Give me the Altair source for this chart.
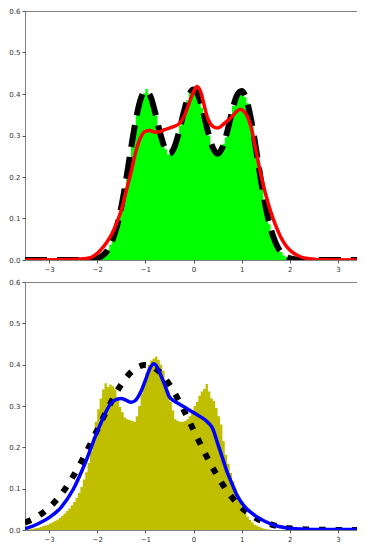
import altair as alt
import pandas as pd

# ---------------- data ----------------
top_hist_first_edge = -2.2
top_hist_bin_width = 0.05
top_hist_values = [
    0.001, 0.001, 0.002, 0.003, 0.006, 0.008, 0.013, 0.019, 0.025, 0.037,
    0.049, 0.068, 0.090, 0.112, 0.146, 0.174, 0.214, 0.246, 0.289, 0.318,
    0.355, 0.372, 0.398, 0.402, 0.412, 0.399, 0.391, 0.366, 0.348, 0.318,
    0.301, 0.275, 0.267, 0.254, 0.260, 0.262, 0.281, 0.296, 0.324, 0.342,
    0.372, 0.385, 0.406, 0.408,
    0.412, 0.400, 0.391, 0.366, 0.347, 0.318, 0.300, 0.276, 0.266, 0.255,
    0.259, 0.262, 0.280, 0.296, 0.323, 0.343, 0.371, 0.386, 0.405, 0.408,
    0.407, 0.392, 0.378, 0.349, 0.322, 0.283, 0.250, 0.209, 0.178, 0.141,
    0.116, 0.086, 0.069, 0.048, 0.037, 0.025, 0.019, 0.011, 0.008, 0.005,
    0.003, 0.002, 0.001, 0.001,
]

top_true_x = [
    -3.5, -3.4, -3.3, -3.2, -3.1, -3.0, -2.9, -2.8, -2.7, -2.6, -2.5, -2.4, -2.3,
    -2.2, -2.1, -2.0, -1.9, -1.8, -1.7, -1.6, -1.5, -1.4, -1.3, -1.2, -1.1, -1.0,
    -0.9, -0.8, -0.7, -0.6, -0.5, -0.4, -0.3, -0.2, -0.1, 0.0,
    0.1, 0.2, 0.3, 0.4, 0.5, 0.6, 0.7, 0.8, 0.9, 1.0,
    1.1, 1.2, 1.3, 1.4, 1.5, 1.6, 1.7, 1.8, 1.9, 2.0, 2.1, 2.2,
    2.3, 2.4, 2.5, 2.6, 2.7, 2.8, 2.9, 3.0, 3.1, 3.2, 3.3, 3.4, 3.5,
]
top_true_y = [
    0, 0, 0, 0, 0, 0, 0, 0, 0, 0, 0, 0, 0,
    0.001, 0.002, 0.004, 0.010, 0.021, 0.043, 0.077, 0.128, 0.193, 0.267, 0.336, 0.387, 0.407,
    0.396, 0.357, 0.309, 0.271, 0.256, 0.271, 0.309, 0.357, 0.396, 0.411,
    0.396, 0.357, 0.309, 0.271, 0.256, 0.271, 0.309, 0.357, 0.396, 0.407,
    0.387, 0.336, 0.267, 0.193, 0.128, 0.077, 0.043, 0.021, 0.010, 0.004, 0.002, 0.001,
    0, 0, 0, 0, 0, 0, 0, 0, 0, 0, 0, 0, 0,
]

top_kde_x = [
    -3.5, -2.6, -2.4, -2.2, -2.1, -2.0, -1.9, -1.8, -1.7, -1.6, -1.5, -1.4, -1.3,
    -1.2, -1.1, -1.0, -0.9, -0.8, -0.7, -0.6, -0.5, -0.4, -0.3, -0.2, -0.1, 0.0,
    0.07, 0.15, 0.2, 0.3, 0.4, 0.5, 0.6, 0.7, 0.8, 0.9, 0.97, 1.05, 1.1, 1.2,
    1.3, 1.4, 1.5, 1.6, 1.7, 1.8, 1.9, 2.0, 2.1, 2.2, 2.3, 2.5, 2.7, 3.5,
]
top_kde_y = [
    0.0, 0.001, 0.002, 0.004, 0.008, 0.016, 0.028, 0.043, 0.062, 0.088, 0.120, 0.165, 0.210,
    0.260, 0.295, 0.310, 0.312, 0.308, 0.309, 0.314, 0.318, 0.322, 0.328, 0.345, 0.375, 0.405,
    0.418, 0.405, 0.383, 0.340, 0.322, 0.318, 0.325, 0.335, 0.345, 0.358, 0.363, 0.358, 0.350, 0.318,
    0.262, 0.205, 0.158, 0.118, 0.085, 0.058, 0.038, 0.024, 0.015, 0.009, 0.005, 0.002, 0.0005, 0.0,
]

bot_hist_first_edge = -3.5
bot_hist_bin_width = 0.05
bot_hist_values = [
    0.001, 0.001, 0.002, 0.003, 0.004, 0.005, 0.007, 0.009, 0.011, 0.013,
    0.016, 0.019, 0.022, 0.025, 0.029, 0.034, 0.040, 0.046, 0.052, 0.060,
    0.068, 0.078, 0.090, 0.104, 0.122, 0.140, 0.162, 0.190, 0.225, 0.262,
    0.292, 0.318, 0.340, 0.355, 0.346, 0.352, 0.348, 0.340, 0.320, 0.298,
    0.285, 0.272, 0.268, 0.266, 0.264, 0.262, 0.275, 0.300, 0.330, 0.352,
    0.380, 0.400, 0.410, 0.415, 0.420, 0.412, 0.400, 0.385, 0.362, 0.335,
    0.310, 0.290, 0.268, 0.264, 0.262, 0.262, 0.264, 0.268, 0.275, 0.285,
    0.300, 0.310, 0.325, 0.335, 0.342, 0.353, 0.335, 0.318, 0.312, 0.295,
    0.275, 0.255, 0.215, 0.182, 0.160, 0.138, 0.118, 0.100, 0.084, 0.072,
    0.055, 0.042, 0.032, 0.024, 0.018, 0.013, 0.010, 0.007, 0.005, 0.003,
    0.002, 0.001,
]

bot_norm_x = [
    -3.5, -3.25, -3.0, -2.75, -2.5, -2.25, -2.0, -1.75, -1.5, -1.25, -1.0,
    -0.75, -0.5, -0.25, 0.0, 0.25, 0.5, 0.75, 1.0, 1.25, 1.5, 1.75, 2.0,
    2.25, 2.5, 2.75, 3.0, 3.25, 3.5,
]
bot_norm_y = [
    0.018, 0.032, 0.054, 0.086, 0.130, 0.183, 0.242, 0.301, 0.352, 0.387, 0.399,
    0.387, 0.352, 0.301, 0.242, 0.183, 0.130, 0.086, 0.054, 0.032, 0.018, 0.009, 0.004,
    0.002, 0.001, 0.0004, 0.0001, 0.0, 0.0,
]

bot_kde_x = [
    -3.5, -3.25, -3.0, -2.75, -2.5, -2.25, -2.0, -1.9, -1.8, -1.7, -1.6, -1.5,
    -1.4, -1.3, -1.2, -1.1, -1.0, -0.9, -0.83, -0.75, -0.7, -0.6, -0.5, -0.4,
    -0.3, -0.2, -0.1, 0.0, 0.1, 0.2, 0.3, 0.4, 0.5, 0.6, 0.7, 0.8, 0.9, 1.0,
    1.1, 1.2, 1.3, 1.5, 1.75, 2.0, 2.3, 2.6, 3.5,
]
bot_kde_y = [
    0.003, 0.014, 0.030, 0.055, 0.098, 0.162, 0.238, 0.265, 0.290, 0.308, 0.316, 0.318,
    0.314, 0.309, 0.314, 0.333, 0.362, 0.392, 0.402, 0.393, 0.380, 0.352, 0.322, 0.312,
    0.305, 0.298, 0.291, 0.284, 0.277, 0.270, 0.260, 0.245, 0.210, 0.175, 0.140, 0.112, 0.085, 0.066,
    0.052, 0.042, 0.033, 0.020, 0.009, 0.004, 0.002, 0.001, 0.001,
]

x_ticks = [-3, -2, -1, 0, 1, 2, 3]
y_ticks = [0.0, 0.1, 0.2, 0.3, 0.4, 0.5, 0.6]

def hist_frame(first_edge, width, values):
    xs = [first_edge + width * i for i in range(len(values) + 1)]
    ys = list(values) + [values[-1]]
    return pd.DataFrame({"x": xs, "y": ys})

X = alt.X("x:Q", scale=alt.Scale(domain=[-3.5, 3.5], nice=False, zero=False),
          axis=alt.Axis(values=x_ticks, format="d", title=None))
Y = alt.Y("y:Q", scale=alt.Scale(domain=[0, 0.6], nice=False),
          axis=alt.Axis(values=y_ticks, format=".1f", title=None,
                        minExtent=13, maxExtent=13))

W = 337

def panel(hist_df, hist_color, ref_df, ref_dash, kde_df, kde_color, height):
    h = alt.Chart(hist_df).mark_area(interpolate="step-after", color=hist_color,
                                     clip=True).encode(x=X, y=Y)
    r = alt.Chart(ref_df).mark_line(color="black", strokeWidth=6, strokeDash=ref_dash,
                                    strokeCap="butt", strokeJoin="round",
                                    interpolate="monotone", clip=True).encode(x=X, y=Y)
    k = alt.Chart(kde_df).mark_line(color=kde_color, strokeWidth=3.5, strokeJoin="round",
                                    interpolate="monotone", clip=True).encode(x=X, y=Y)
    return alt.layer(h, r, k).properties(width=W, height=height)

top = panel(hist_frame(top_hist_first_edge, top_hist_bin_width, top_hist_values), "#00ff00",
            pd.DataFrame({"x": top_true_x, "y": top_true_y}), [22, 10],
            pd.DataFrame({"x": top_kde_x, "y": top_kde_y}), "#ff0000", 249)
bottom = panel(hist_frame(bot_hist_first_edge, bot_hist_bin_width, bot_hist_values), "#bfbf00",
               pd.DataFrame({"x": bot_norm_x, "y": bot_norm_y}), [6.5, 10],
               pd.DataFrame({"x": bot_kde_x, "y": bot_kde_y}), "#0000ff", 248)

chart = alt.vconcat(top, bottom, spacing=4).properties(
    padding={"left": 0, "top": -2, "right": -6, "bottom": 0},
    autosize=alt.AutoSizeParams(type="pad"),
).configure_view(
    stroke="#808080", strokeWidth=1
).configure_axis(
    grid=False, domain=False, ticks=True, tickSize=3, tickColor="#555",
    labelFont="DejaVu Sans", labelFontSize=7, labelColor="#333", labelPadding=2,
)

chart.save("out.html", embed_options={"renderer": "svg", "actions": False})
